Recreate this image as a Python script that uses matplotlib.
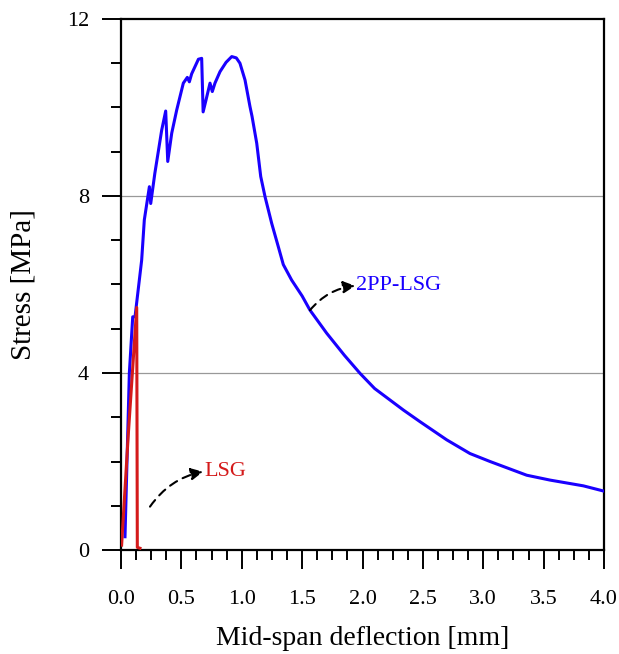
import matplotlib.pyplot as plt
from matplotlib.ticker import MultipleLocator

# 2PP-LSG curve (mid-span deflection [mm], stress [MPa])
defl_2pp = [0.033, 0.069, 0.097, 0.116, 0.171, 0.193, 0.235, 0.246, 0.28, 0.337,
            0.37, 0.387, 0.42, 0.461, 0.516, 0.549, 0.566, 0.585, 0.641, 0.668,
            0.68, 0.704, 0.737, 0.756, 0.778, 0.82, 0.87, 0.917, 0.955, 0.985,
            1.027, 1.068, 1.085, 1.124, 1.157, 1.193, 1.248, 1.303, 1.344, 1.413,
            1.50, 1.565, 1.703, 1.85, 1.98, 2.10, 2.34, 2.476, 2.697, 2.89,
            3.056, 3.36, 3.553, 3.829, 4.0]
stress_2pp = [0.3, 4.0, 5.27, 5.27, 6.55, 7.46, 8.21, 7.83, 8.51, 9.49,
              9.92, 8.78, 9.42, 9.94, 10.55, 10.68, 10.58, 10.76, 11.09, 11.11,
              9.9, 10.17, 10.55, 10.36, 10.55, 10.81, 11.02, 11.15, 11.12, 11.0,
              10.62, 10.02, 9.8, 9.19, 8.44, 7.98, 7.38, 6.85, 6.45, 6.1,
              5.74, 5.42, 4.90, 4.40, 3.99, 3.65, 3.16, 2.90, 2.49, 2.18,
              2.0, 1.69, 1.58, 1.45, 1.33]

# LSG curve
defl_lsg = [0.005, 0.06, 0.13, 0.135, 0.157]
stress_lsg = [0.11, 2.6, 5.48, 0.06, 0.04]

plt.rcParams['font.family'] = ['Liberation Serif', 'DejaVu Serif']

fig = plt.figure(figsize=(6.19, 6.54), dpi=100)
ax = fig.add_axes([0.1955, 0.159, 0.7803, 0.812])

ax.plot(defl_2pp, stress_2pp, color='#1a00ff', lw=2.2, zorder=3)
ax.plot(defl_lsg, stress_lsg, color='#d41a1a', lw=2.2, zorder=4)

for y in [4, 8]:
    ax.axhline(y, color='#999999', lw=0.9, zorder=1)

ax.set_xlim(0, 4.0)
ax.set_ylim(0, 12)
ax.xaxis.set_major_locator(MultipleLocator(0.5))
ax.xaxis.set_minor_locator(MultipleLocator(0.125))
ax.yaxis.set_major_locator(MultipleLocator(4))
ax.yaxis.set_minor_locator(MultipleLocator(1))
ax.xaxis.set_major_formatter(lambda v, _: f'{v:.1f}')
ax.yaxis.set_major_formatter(lambda v, _: f'{v:.0f}')

ax.tick_params(which='major', direction='out', length=14, width=1.4, labelsize=16)
ax.tick_params(axis='x', which='major', pad=15)
ax.tick_params(axis='y', which='major', pad=9)
ax.tick_params(which='minor', direction='out', length=7, width=1.4)
ax.tick_params(top=False, right=False, which='both')
for s in ax.spines.values():
    s.set_linewidth(1.6)

ax.set_xlabel('Mid-span deflection [mm]', fontsize=20, labelpad=12)
ax.set_ylabel('Stress [MPa]', fontsize=21, labelpad=22)

ax.annotate('', xy=(0.68, 1.77), xytext=(0.24, 0.98),
            arrowprops=dict(arrowstyle='-|>', color='black', lw=1.5,
                            linestyle=(0, (4, 3)), mutation_scale=18,
                            connectionstyle='arc3,rad=-0.2', shrinkA=0, shrinkB=0))
ax.text(0.69, 1.77, 'LSG', color='#d41a1a', fontsize=16, va='center', ha='left')

ax.annotate('', xy=(1.94, 5.97), xytext=(1.565, 5.42),
            arrowprops=dict(arrowstyle='-|>', color='black', lw=1.5,
                            linestyle=(0, (4, 3)), mutation_scale=18,
                            connectionstyle='arc3,rad=-0.2', shrinkA=0, shrinkB=0))
ax.text(1.95, 5.97, '2PP-LSG', color='#1a00ff', fontsize=16, va='center', ha='left')

fig.savefig('out.png', dpi=100)
